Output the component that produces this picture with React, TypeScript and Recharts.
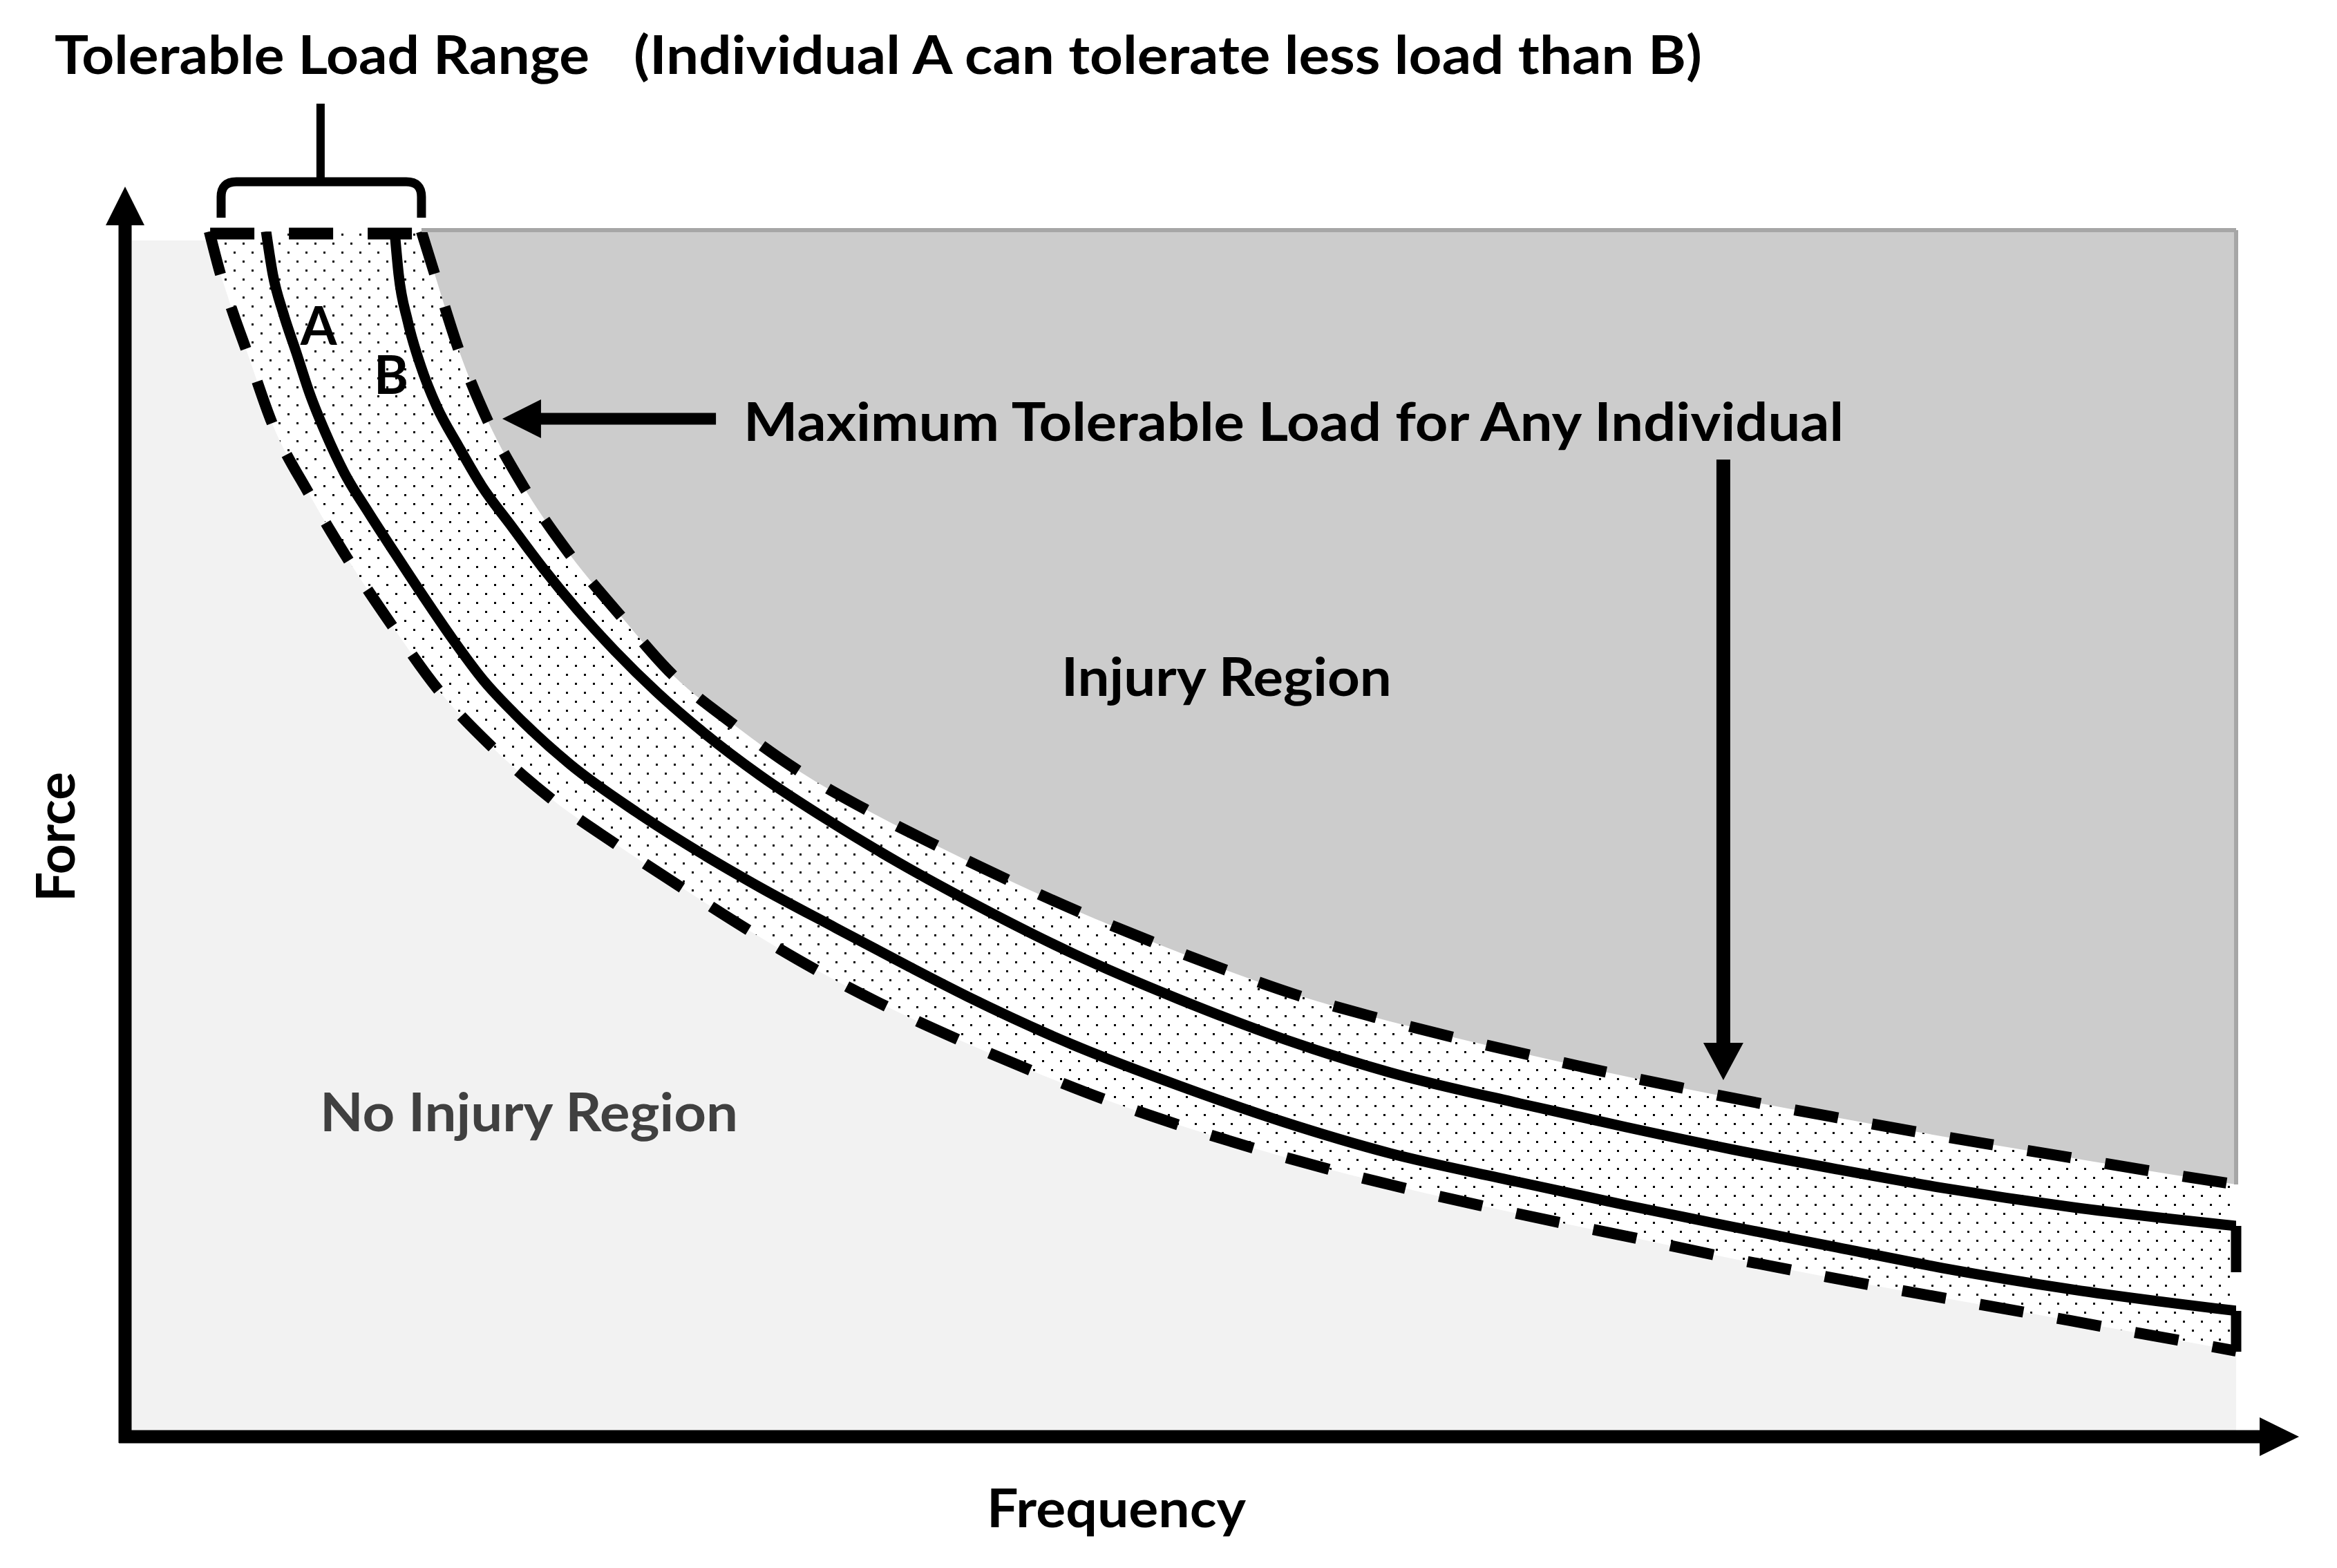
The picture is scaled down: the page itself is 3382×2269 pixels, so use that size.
import React from "react";
import {
  ComposedChart,
  Area,
  Line,
  XAxis,
  YAxis,
  ReferenceLine,
  ReferenceDot,
} from "recharts";

// Frequency runs 0..100 along the x axis, force 0..100 up the y axis.

// Maximum tolerable load for any individual (upper dashed boundary)
const maxLoadFreq = [14.04, 14.63, 15.78, 17.18, 18.95, 21.08, 23.47, 25.92, 28.81, 31.88, 35.12, 38.46, 41.73, 45.07, 48.58, 52.08, 55.52, 59.18, 62.78, 66.74, 70.08, 73.68, 77.35, 81.05, 84.71, 88.38, 92.11, 95.81, 100];
const maxLoadForce = [100, 96.67, 90.31, 84.29, 78.61, 73.17, 68.12, 63.25, 59.12, 55.28, 52.01, 49.03, 46.27, 43.64, 41.11, 38.76, 36.64, 34.81, 33.2, 31.59, 30.28, 28.96, 27.69, 26.49, 25.34, 24.25, 23.17, 22.08, 20.93];

// Individual B
const curveBFreq = [12.77, 12.96, 13.39, 14.01, 14.76, 15.78, 16.89, 18.27, 19.77, 21.41, 23.21, 25.17, 27.36, 30.08, 33.36, 36.63, 39.9, 44.91, 49.92, 54.93, 59.93, 66.09, 71.1, 76.1, 81.11, 86.12, 92.27, 100];
const curveBForce = [100, 96.44, 92.55, 88.82, 85.49, 82.22, 78.9, 75.63, 72.13, 68.64, 65.19, 61.81, 58.49, 54.87, 51.09, 47.65, 44.5, 40.08, 36.3, 32.97, 30.22, 27.64, 25.69, 23.85, 22.19, 20.64, 19.04, 17.49];

// Individual A
const curveAFreq = [6.68, 7.0, 7.5, 8.12, 8.74, 9.49, 10.38, 11.52, 12.77, 14.11, 15.52, 16.99, 18.46, 21.08, 24.22, 27.36, 30.08, 33.68, 37.02, 39.9, 44.91, 49.92, 54.93, 59.93, 66.09, 71.1, 76.1, 81.11, 86.12, 92.27, 100];
const curveAForce = [100, 96.44, 93.18, 89.91, 86.58, 83.31, 79.99, 76.72, 73.34, 69.78, 66.17, 62.73, 59.98, 55.79, 51.83, 48.34, 45.58, 42.2, 39.11, 36.53, 32.51, 29.13, 26.09, 23.51, 21.1, 19.21, 17.43, 15.71, 13.99, 12.21, 10.44];

// Lower edge of the tolerable load range (lower dashed boundary)
const minLoadFreq = [3.99, 4.55, 5.14, 5.76, 7.0, 8.74, 10.61, 12.64, 14.83, 17.45, 20.23, 23.27, 26.35, 29.53, 32.77, 36.04, 39.44, 42.91, 46.32, 49.92, 53.52, 57.02, 60.69, 64.29, 67.92, 71.59, 75.29, 78.95, 82.62, 86.28, 89.98, 93.58, 97.18, 100];
const minLoadForce = [100, 96.27, 93.12, 90.08, 83.94, 78.15, 72.65, 67.32, 61.98, 57.11, 52.87, 49.14, 45.58, 42.03, 38.7, 35.72, 32.97, 30.39, 28.04, 25.86, 23.91, 22.19, 20.58, 19.15, 17.78, 16.46, 15.08, 13.82, 12.61, 11.47, 10.32, 9.17, 8.03, 7.11];

// top-left corner of the no-injury region, before the lower boundary starts
const noInjuryCornerFreq = [0.33, 3.9];
const noInjuryCornerForce = [99.25, 99.25];

// extent of the tolerable (dotted) band
const bandFreq = [3.99, 100];
const bandForce = [100, 100];

const zip = (xs: number[], ys: number[]) => xs.map((x, i) => ({ x, y: ys[i] }));

const maxLoad = zip(maxLoadFreq, maxLoadForce);
const curveB = zip(curveBFreq, curveBForce);
const curveA = zip(curveAFreq, curveAForce);
const minLoad = zip(minLoadFreq, minLoadForce);
const noInjury = [...zip(noInjuryCornerFreq, noInjuryCornerForce), ...minLoad.slice(1)];
const band = zip(bandFreq, bandForce);

const W = 3382;
const H = 2269;
const FONT = "Lato, 'Open Sans', sans-serif";
const DASH = "64 50";

function arrowShape(head: number, half: number, width: number) {
  return (p: any) => {
    const { x1, y1, x2, y2 } = p;
    const len = Math.hypot(x2 - x1, y2 - y1) || 1;
    const ux = (x2 - x1) / len;
    const uy = (y2 - y1) / len;
    const bx = x2 - ux * head;
    const by = y2 - uy * head;
    const nx = -uy * half;
    const ny = ux * half;
    return (
      <g>
        <line x1={x1} y1={y1} x2={bx + ux * 2} y2={by + uy * 2} stroke="#000" strokeWidth={width} />
        <polygon points={`${x2},${y2} ${bx + nx},${by + ny} ${bx - nx},${by - ny}`} fill="#000" />
      </g>
    );
  };
}

// bracket: (x1,y1) = bottom of left leg, (x2,y2) = right end of the bar
function bracketShape(p: any) {
  const { x1, y1, x2, y2 } = p;
  const r = 22;
  const d = `M${x1},${y1} L${x1},${y2 + r} Q${x1},${y2} ${x1 + r},${y2} L${x2 - r},${y2} Q${x2},${y2} ${x2},${y2 + r} L${x2},${y1}`;
  return <path d={d} fill="none" stroke="#000" strokeWidth={13} />;
}

function textShape(label: string, opts: { width?: number; anchor?: string; color?: string; rotate?: boolean }) {
  return (p: any) => (
    <text
      x={p.cx}
      y={p.cy}
      fontFamily={FONT}
      fontWeight={700}
      fontSize={76}
      fill={opts.color || "#000"}
      textAnchor={opts.anchor || "start"}
      textLength={opts.width}
      lengthAdjust={opts.width ? "spacingAndGlyphs" : undefined}
      transform={opts.rotate ? `rotate(-90 ${p.cx} ${p.cy})` : undefined}
    >
      {label}
    </text>
  );
}

const labels = [
  { text: "Tolerable Load Range", x: -3.34, y: 113.07, width: 774 },
  { text: "(Individual A can tolerate less load than B)", x: 24.09, y: 113.07, width: 1546 },
  { text: "Maximum Tolerable Load for Any Individual", x: 29.3, y: 82.63, width: 1592 },
  { text: "Injury Region", x: 44.35, y: 61.47, width: 478 },
  { text: "No Injury Region", x: 9.23, y: 25.34, width: 605, color: "#404040" },
  { text: "Frequency", x: 40.82, y: -7.51, width: 375 },
  { text: "Force", x: -2.39, y: 44.38, width: 188, rotate: true },
  { text: "A", x: 9.17, y: 90.6, anchor: "middle" },
  { text: "B", x: 12.6, y: 86.53, anchor: "middle" },
];

export default function App() {
  return (
    <div style={{ position: "absolute", left: 0, top: 0, width: W, height: H, background: "#fff" }}>
      <svg width={0} height={0} style={{ position: "absolute" }}>
        <defs>
          <pattern id="dots" width={26} height={26} patternUnits="userSpaceOnUse">
            <rect x={0} y={0} width={3} height={3} fill="#000" />
            <rect x={13} y={13} width={3} height={3} fill="#000" />
          </pattern>
        </defs>
      </svg>
      <ComposedChart width={W} height={H} margin={{ top: 335, right: 146, bottom: 190, left: 181 }}>
        <XAxis type="number" dataKey="x" domain={[0, 100]} hide allowDataOverflow />
        <YAxis type="number" domain={[0, 100]} hide allowDataOverflow />

        <Area data={band} dataKey="y" type="linear" baseValue={0} fill="url(#dots)" fillOpacity={1} stroke="none" isAnimationActive={false} />
        <Area data={maxLoad} dataKey="y" type="monotone" baseValue={100} fill="#cccccc" fillOpacity={1} stroke="none" isAnimationActive={false} />
        <Area data={noInjury} dataKey="y" type="monotone" baseValue={0} fill="#f2f2f2" fillOpacity={1} stroke="none" isAnimationActive={false} />

        <Line data={curveA} dataKey="y" type="monotone" stroke="#000" strokeWidth={15} dot={false} activeDot={false} isAnimationActive={false} />
        <Line data={curveB} dataKey="y" type="monotone" stroke="#000" strokeWidth={15} dot={false} activeDot={false} isAnimationActive={false} />
        <Line data={maxLoad} dataKey="y" type="monotone" stroke="#000" strokeWidth={16} strokeDasharray={DASH} dot={false} activeDot={false} isAnimationActive={false} />
        <Line data={minLoad} dataKey="y" type="monotone" stroke="#000" strokeWidth={16} strokeDasharray={DASH} dot={false} activeDot={false} isAnimationActive={false} />

        {/* injury region outline */}
        <ReferenceLine segment={[{ x: 14.04, y: 100.11 }, { x: 100, y: 100.11 }]} stroke="#a6a6a6" strokeWidth={6} ifOverflow="visible" zIndex={2500} />
        <ReferenceLine segment={[{ x: 100, y: 100.11 }, { x: 100, y: 20.93 }]} stroke="#a6a6a6" strokeWidth={6} ifOverflow="visible" zIndex={2500} />

        {/* top of the band and closing ends of the A/B curves */}
        <ReferenceLine segment={[{ x: 4.03, y: 99.83 }, { x: 13.62, y: 99.83 }]} stroke="#000" strokeWidth={17} strokeDasharray={DASH} ifOverflow="visible" zIndex={2500} />
        <ReferenceLine segment={[{ x: 100, y: 17.49 }, { x: 100, y: 13.65 }]} stroke="#000" strokeWidth={15} ifOverflow="visible" zIndex={2500} />
        <ReferenceLine segment={[{ x: 100, y: 10.44 }, { x: 100, y: 7.05 }]} stroke="#000" strokeWidth={15} ifOverflow="visible" zIndex={2500} />

        {/* axes */}
        <ReferenceLine segment={[{ x: 0, y: -0.52 }, { x: 0, y: 103.73 }]} shape={arrowShape(56, 28, 19)} ifOverflow="visible" zIndex={2500} />
        <ReferenceLine segment={[{ x: -0.29, y: 0 }, { x: 102.98, y: 0 }]} shape={arrowShape(57, 28, 19)} ifOverflow="visible" zIndex={2500} />

        {/* annotation arrows */}
        <ReferenceLine segment={[{ x: 27.99, y: 84.46 }, { x: 17.87, y: 84.46 }]} shape={arrowShape(56, 28, 17)} ifOverflow="visible" zIndex={2500} />
        <ReferenceLine segment={[{ x: 75.71, y: 81.08 }, { x: 75.71, y: 29.59 }]} shape={arrowShape(54, 29, 20)} ifOverflow="visible" zIndex={2500} />

        {/* tolerable load range bracket */}
        <ReferenceLine segment={[{ x: 9.26, y: 110.61 }, { x: 9.26, y: 104.13 }]} stroke="#000" strokeWidth={12} ifOverflow="visible" zIndex={2500} />
        <ReferenceLine segment={[{ x: 4.55, y: 101.15 }, { x: 14.04, y: 104.13 }]} shape={bracketShape} ifOverflow="visible" zIndex={2500} />

        {labels.map((l) => (
          <ReferenceDot
            key={l.text}
            x={l.x}
            y={l.y}
            r={0}
            ifOverflow="visible"
            zIndex={2600}
            shape={textShape(l.text, { width: l.width, anchor: l.anchor, color: l.color, rotate: l.rotate })}
          />
        ))}
      </ComposedChart>
    </div>
  );
}
